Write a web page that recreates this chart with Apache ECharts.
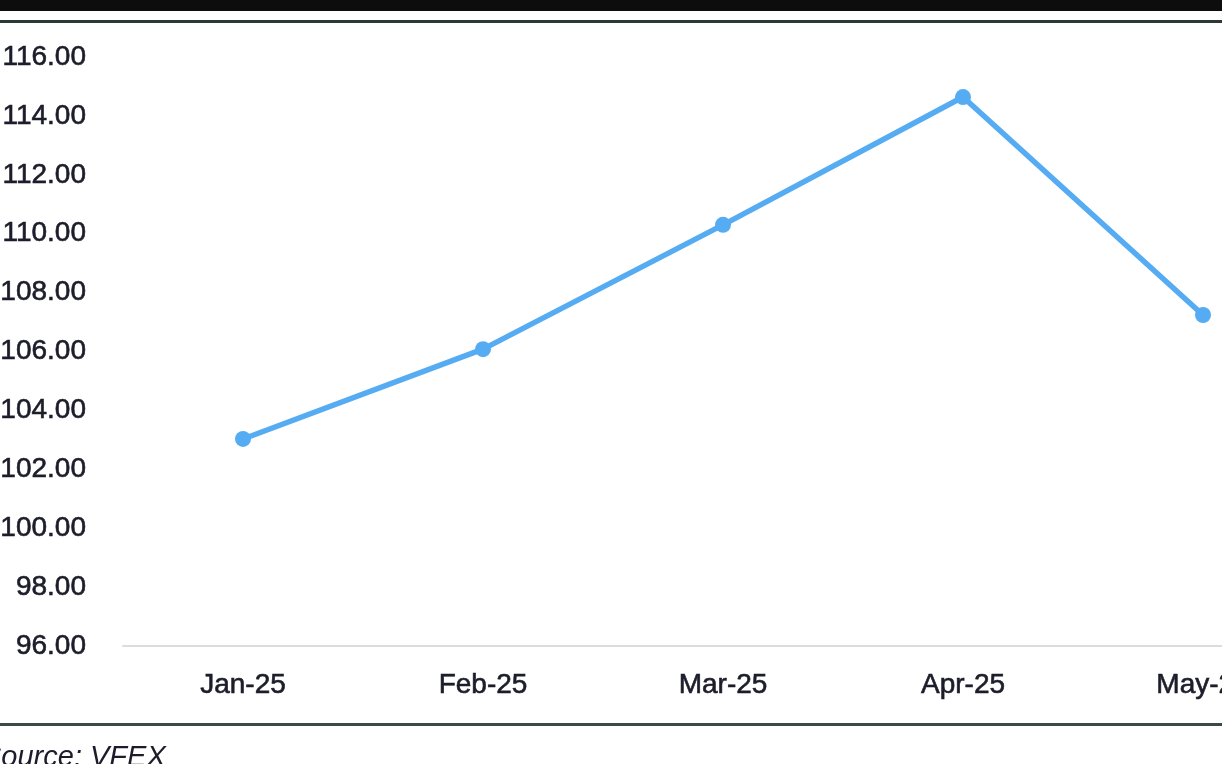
<!DOCTYPE html>
<html><head><meta charset="utf-8">
<style>html,body{margin:0;padding:0;background:#fff;}#c{width:1222px;height:764px;}</style>
<script src="https://cdn.jsdelivr.net/npm/echarts@6/dist/echarts.min.js"></script>
</head><body><div id="c"></div>
<script>
var categories = ['Jan-25', 'Feb-25', 'Mar-25', 'Apr-25', 'May-25'];
var values = [103.03, 106.08, 110.30, 114.64, 107.24];
var yMin = 96, yMax = 116, yStep = 2;
var sourceText = 'Source: VFEX';

var FONT = '"Liberation Sans", Arial, sans-serif';
var TXT = '#1c1c2a';
var chart = echarts.init(document.getElementById('c'));
chart.setOption({
  backgroundColor: '#ffffff',
  animation: false,
  grid: { left: 123, top: 57, width: 1200, bottom: 118, containLabel: false, outerBoundsMode: 'none' },
  xAxis: {
    type: 'category', data: categories, boundaryGap: true,
    axisLine: { show: true, lineStyle: { color: '#dcdcdc', width: 2 } },
    axisTick: { show: false },
    axisLabel: { color: TXT, fontSize: 28, fontFamily: FONT, margin: 25,
      textBorderColor: TXT, textBorderWidth: 0.6 },
    splitLine: { show: false }
  },
  yAxis: {
    type: 'value', min: yMin, max: yMax, interval: yStep,
    axisLine: { show: false }, axisTick: { show: false },
    splitLine: { show: false },
    axisLabel: { color: TXT, fontSize: 28, fontFamily: FONT, margin: 37,
      padding: [5, 0, 0, 0],
      textBorderColor: TXT, textBorderWidth: 0.6,
      formatter: function (v) { return v.toFixed(2); } }
  },
  series: [{
    type: 'line', data: values,
    symbol: 'circle', symbolSize: 16,
    lineStyle: { color: '#56acf2', width: 5.5 },
    itemStyle: { color: '#56acf2' }
  }],
  graphic: [
    { type: 'rect', left: 0, top: 0, shape: { width: 1222, height: 11 }, style: { fill: '#0d0d0d' } },
    { type: 'rect', left: 0, top: 20, shape: { width: 1222, height: 3 }, style: { fill: '#2e3835' } },
    { type: 'rect', left: 0, top: 723, shape: { width: 1222, height: 3 }, style: { fill: '#3a4a46' } },
    { type: 'text', left: -18, top: 743, style: { text: sourceText, fill: TXT, font: 'italic 29px ' + FONT } }
  ]
});
</script></body></html>
